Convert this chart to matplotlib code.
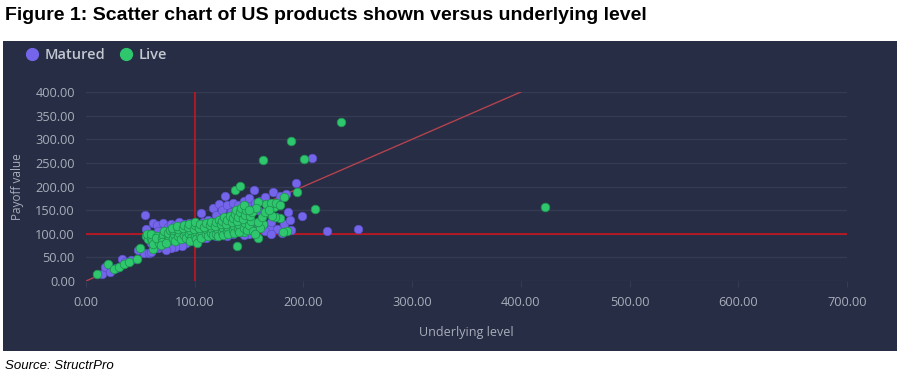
import matplotlib

matplotlib.use("Agg")

import matplotlib.pyplot as plt
from matplotlib.lines import Line2D
from matplotlib.patches import Rectangle

# Matured products: (underlying level, payoff value)
matured_x = [15, 17.5, 22, 28, 33, 36, 41, 48, 53, 58, 60, 66.5, 64, 70, 75, 80, 85, 90,
             54, 55, 62, 65, 71, 75, 78, 82, 86, 90, 95, 98, 102, 105.5, 108, 112, 117, 120,
             122, 125, 128, 130, 133, 135.5, 138, 140, 145, 148, 150, 154.5, 155, 160, 165,
             168, 172, 178.5, 184, 193, 208, 186, 199, 189, 180, 169, 176, 222, 250.5, 160,
             155, 150, 145, 140, 135, 130, 125, 120, 115, 110, 105, 100, 96, 92, 88, 82, 78,
             74, 120, 128, 135, 142, 150, 158, 163, 170, 175, 182, 188, 160, 155, 165, 170,
             146, 115, 110, 95, 85, 70, 65, 60, 58, 66]
matured_y = [14, 30, 20, 27, 46, 40, 44, 66, 59, 60, 62, 69, 72, 75, 78, 82, 80, 90,
             140, 110, 123, 118, 122, 115, 120, 118, 125, 120, 122, 118, 115, 143, 125, 130, 154, 140,
             164, 150, 179, 160, 145, 166, 150, 160, 170, 160, 175, 193, 165, 170, 178,
             160, 188, 180, 185, 207, 260, 145, 138, 108, 102, 111, 111, 106, 110, 115,
             105, 100, 98, 105, 100, 95, 100, 95, 98, 92, 95, 88, 85, 80, 75, 72, 70,
             66, 125, 130, 128, 135, 140, 150, 140, 125, 135, 120, 130, 128, 120, 105, 100,
             115, 110, 118, 105, 100, 100, 88, 80, 95, 105]

# Live products: (underlying level, payoff value)
live_x = [10, 20, 26, 30, 35, 40, 46.6, 50, 62,
          422, 235, 188.6, 163, 200.5, 211, 194, 137, 142, 182, 185, 139, 158.5, 150.6,
          145, 173, 178, 173.6, 171, 181, 163, 166, 170, 158,
          55, 57, 56, 60, 61, 62, 60, 65, 66, 67, 64, 70, 71, 70, 72, 69,
          75, 76, 75, 77, 74, 80, 81, 80, 82, 79, 85, 86, 85, 87, 84,
          90, 91, 89, 92, 90, 95, 96, 94, 97, 95, 96,
          100, 101, 99, 100, 101, 100, 102, 105, 106, 104, 105, 106,
          110, 111, 109, 110, 112, 115, 116, 114, 115, 117,
          120, 121, 119, 120, 122, 121, 125, 126, 124, 125, 127, 126,
          130, 131, 129, 130, 132, 131, 135, 136, 134, 135, 137, 136, 138,
          140, 141, 139, 140, 142, 141, 143, 145, 146, 144, 146, 147, 145, 148,
          150, 152, 151, 153, 154, 156, 150, 160, 158, 162, 165, 168, 175, 178, 155]
live_y = [14, 37, 25, 30, 36, 40, 47, 70, 68,
          157, 336, 296, 256, 258, 152, 188, 193, 201, 178, 106, 75, 92, 114,
          103, 156, 133, 135, 137, 104, 121, 164, 166, 168,
          95, 88, 100, 92, 85, 78, 100, 95, 86, 80, 90, 90, 98, 82, 105, 76,
          95, 88, 102, 108, 80, 92, 100, 108, 85, 112, 95, 102, 110, 88, 116,
          98, 106, 112, 92, 118, 100, 108, 115, 92, 120, 85,
          95, 103, 110, 118, 88, 125, 80, 98, 105, 112, 120, 92,
          100, 108, 115, 122, 95, 102, 110, 118, 125, 97,
          100, 108, 116, 124, 130, 96, 104, 112, 120, 128, 135, 98,
          105, 113, 121, 130, 138, 99, 108, 116, 124, 133, 142, 102, 150,
          110, 118, 127, 136, 145, 104, 155, 112, 122, 132, 140, 150, 160, 108,
          118, 128, 138, 145, 105, 155, 150, 112, 125, 135, 145, 150, 165, 160, 100]

x_ticks = [0, 100, 200, 300, 400, 500, 600, 700]
y_ticks = [0, 50, 100, 150, 200, 250, 300, 350, 400]

# reference lines
strike_level = 100
diag_end = 400

BG = "#262d44"
GRID = "#343b52"
TICK = "#a9aebb"
MATURED = "#7465ea"
LIVE = "#2fc76e"

W, H = 901, 378
fig = plt.figure(figsize=(W / 100, H / 100), dpi=100)
fig.patch.set_facecolor("white")
fig.add_artist(Rectangle((3 / W, 1 - 351 / H), 894 / W, 310 / H,
                         transform=fig.transFigure, facecolor=BG, edgecolor="none", zorder=0))

ax = fig.add_axes([86 / W, 1 - 281 / H, (847 - 86) / W, (281 - 92) / H])
ax.set_facecolor(BG)
ax.set_xlim(0, 700)
ax.set_ylim(0, 400)
for s in ax.spines.values():
    s.set_visible(False)
ax.set_yticks(y_ticks)
ax.set_xticks(x_ticks)
ax.set_yticklabels([f"{v:.2f}" for v in y_ticks], fontsize=9.2, color=TICK, family="Open Sans")
ax.set_xticklabels([f"{v:.2f}" for v in x_ticks], fontsize=9.2, color=TICK, family="Open Sans")
ax.tick_params(axis="y", length=0, pad=8)
ax.tick_params(axis="x", length=4, color=GRID, pad=7)
ax.grid(axis="y", color=GRID, linewidth=1)
ax.set_axisbelow(True)

ax.plot([0, diag_end], [0, diag_end], color="#b3424f", linewidth=1, zorder=2)
ax.axvline(strike_level, color="#c8141e", linewidth=1.2, zorder=2)
ax.axhline(strike_level, color="#c8141e", linewidth=1.2, zorder=2)

ax.scatter(matured_x, matured_y, s=38, color=MATURED, edgecolors="#5a4fc4", linewidths=0.5,
           zorder=3, clip_on=False)
ax.scatter(live_x, live_y, s=38, color=LIVE, edgecolors="#1f9452", linewidths=0.6,
           zorder=4, clip_on=False)

ax.set_xlabel("Underlying level", fontsize=9, color=TICK, family="Open Sans", labelpad=12)
ax.set_ylabel("Payoff value", fontsize=8.5, color=TICK, family="Open Sans", labelpad=8)

handles = [
    Line2D([0], [0], marker="o", color="none", markerfacecolor=MATURED, markeredgecolor=MATURED,
           markersize=8.5, label="Matured"),
    Line2D([0], [0], marker="o", color="none", markerfacecolor=LIVE, markeredgecolor=LIVE,
           markersize=8.5, label="Live"),
]
fig.legend(handles=handles, loc="center left", bbox_to_anchor=(8 / W, 1 - 55 / H), ncol=2,
           frameon=False, handletextpad=0.1, columnspacing=0.7, handlelength=1.5,
           prop={"family": "Open Sans", "size": 10.5, "weight": "semibold"}, labelcolor="#c3c7d0")

fig.text(5 / W, 1 - 16 / H, "Figure 1: Scatter chart of US products shown versus underlying level",
         fontsize=14, fontweight="bold", family="Liberation Sans", va="center", ha="left")
fig.text(5 / W, 1 - 366 / H, "Source: StructrPro", fontsize=9.5, style="italic",
         family="Liberation Sans", va="center", ha="left")

fig.savefig("out.png", dpi=100)
